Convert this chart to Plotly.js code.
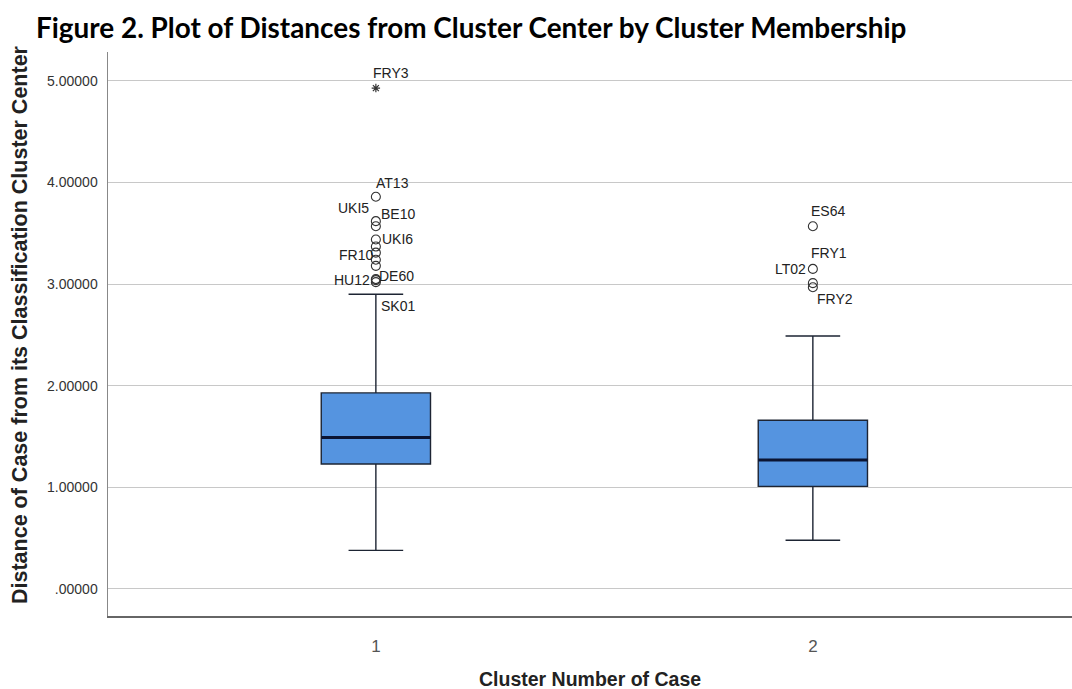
<!DOCTYPE html>
<html>
<head>
<meta charset="utf-8">
<script src="https://cdn.plot.ly/plotly-3.0.1.min.js"></script>
<style>html,body{margin:0;padding:0;background:#fff;}#chart{width:1072px;height:689px;}</style>
</head>
<body>
<div id="chart"></div>
<script>
// Box statistics per cluster
const clusters = [1, 2];
const clusterLabels = ["1", "2"];
const q1 = [1.23, 1.01];
const medians = [1.49, 1.27];
const q3 = [1.93, 1.66];
const lowerWhisker = [0.38, 0.48];
const upperWhisker = [2.90, 2.49];

// Outliers (circles)
const outlierCluster = [1, 1, 1, 1, 1, 1, 1, 1, 1, 1, 1, 2, 2, 2, 2];
const outlierValues = [3.86, 3.62, 3.57, 3.44, 3.37, 3.31, 3.24, 3.18, 3.05, 3.04, 3.02, 3.57, 3.15, 3.01, 2.97];

// Extreme values (stars)
const extremeCluster = [1];
const extremeValues = [4.93];

// Case labels
const labelNames = ["FRY3", "AT13", "UKI5", "BE10", "UKI6", "FR10", "HU12", "DE60", "SK01", "ES64", "FRY1", "LT02", "FRY2"];
const labelCluster = [1, 1, 1, 1, 1, 1, 1, 1, 1, 2, 2, 2, 2];
const labelValues = [4.93, 3.86, 3.62, 3.57, 3.44, 3.31, 3.05, 3.04, 3.02, 3.57, 3.15, 3.15, 2.97];
const labelSide = ["left", "left", "right", "left", "left", "right", "right", "left", "left", "left", "left", "right", "left"];
const labelDx = [-5, -2, -5, 3, 4, -1, -4, 1, 3, -4, -4, -5, 2];
const labelDy = [15, 14, 13, 12, 0, -2, -1, 4, -24, 15, 16, 0, -12];

const yTicks = [0, 1, 2, 3, 4, 5];
const yTickText = [".00000", "1.00000", "2.00000", "3.00000", "4.00000", "5.00000"];

const boxWidth = 0.25;

const medX = [], medY = [];
clusters.forEach((c, i) => {
  medX.push(c - boxWidth / 2, c + boxWidth / 2, null);
  medY.push(medians[i], medians[i], null);
});

const traces = [
  {
    type: 'box',
    x: clusters,
    q1: q1, median: medians, q3: q3,
    lowerfence: lowerWhisker, upperfence: upperWhisker,
    width: boxWidth,
    whiskerwidth: 0.5,
    boxpoints: false,
    fillcolor: '#5594e0',
    line: {color: '#1d2433', width: 1.4},
    hoverinfo: 'skip',
    showlegend: false
  },
  {
    type: 'scatter', mode: 'lines',
    x: medX, y: medY,
    line: {color: '#0b1433', width: 3},
    hoverinfo: 'skip', showlegend: false
  },
  {
    type: 'scatter', mode: 'markers',
    x: outlierCluster, y: outlierValues,
    marker: {symbol: 'circle-open', size: 9, color: '#333', line: {width: 1.1}},
    showlegend: false
  },
  {
    type: 'scatter', mode: 'markers',
    x: extremeCluster, y: extremeValues,
    marker: {symbol: 'asterisk-open', size: 7, color: '#333', line: {width: 1.2}},
    showlegend: false
  }
];

const annotations = labelNames.map((n, i) => ({
  x: labelCluster[i], y: labelValues[i], xref: 'x', yref: 'y',
  text: n, showarrow: false,
  xanchor: labelSide[i], yanchor: 'middle',
  xshift: labelDx[i], yshift: labelDy[i],
  font: {family: 'Liberation Sans, Arial, sans-serif', size: 14, color: '#222'}
}));

annotations.push({
  xref: 'paper', yref: 'paper', x: 0.5, y: 0, yshift: -63, xanchor: 'center', yanchor: 'middle',
  text: '<b>Cluster Number of Case</b>', showarrow: false,
  font: {family: 'Liberation Sans, Arial, sans-serif', size: 19.5, color: '#222'}
});

annotations.push({
  xref: 'paper', yref: 'paper', x: 0, y: 0.5, xshift: -88, yshift: 9, xanchor: 'center', yanchor: 'middle',
  textangle: -90,
  text: '<b>Distance of Case from its Classification Cluster Center</b>', showarrow: false,
  font: {family: 'Liberation Sans, Arial, sans-serif', size: 21.5, color: '#222'}
});

const layout = {
  width: 1072, height: 689,
  margin: {l: 108, r: 0, t: 52, b: 73},
  paper_bgcolor: '#fff', plot_bgcolor: '#fff',
  title: {
    text: '<b>Figure 2. Plot of Distances from Cluster Center by Cluster Membership</b>',
    x: 36 / 1072, xanchor: 'left', xref: 'container', y: 1 - 28 / 689, yanchor: 'middle', yref: 'container',
    font: {family: 'Lato, sans-serif', size: 27.9, color: '#000'}
  },
  xaxis: {
    range: [0.387, 2.593],
    tickvals: clusters, ticktext: clusterLabels,
    showgrid: false, zeroline: false,
    showline: true, linecolor: '#666', linewidth: 1.5,
    ticks: '', ticklabelstandoff: 14,
    tickfont: {family: 'Liberation Sans, Arial, sans-serif', size: 17, color: '#555'}
  },
  yaxis: {
    range: [-0.266, 5.285],
    tickvals: yTicks, ticktext: yTickText,
    showgrid: true, gridcolor: '#c8c8c8', gridwidth: 1,
    zeroline: false,
    showline: true, linecolor: '#888', linewidth: 1.5,
    ticks: '', ticklabelstandoff: 6,
    tickfont: {family: 'Liberation Sans, Arial, sans-serif', size: 14, color: '#333'}
  },
  annotations: annotations,
  showlegend: false
};

Plotly.newPlot('chart', traces, layout, {displayModeBar: false, staticPlot: true});
</script>
</body>
</html>
